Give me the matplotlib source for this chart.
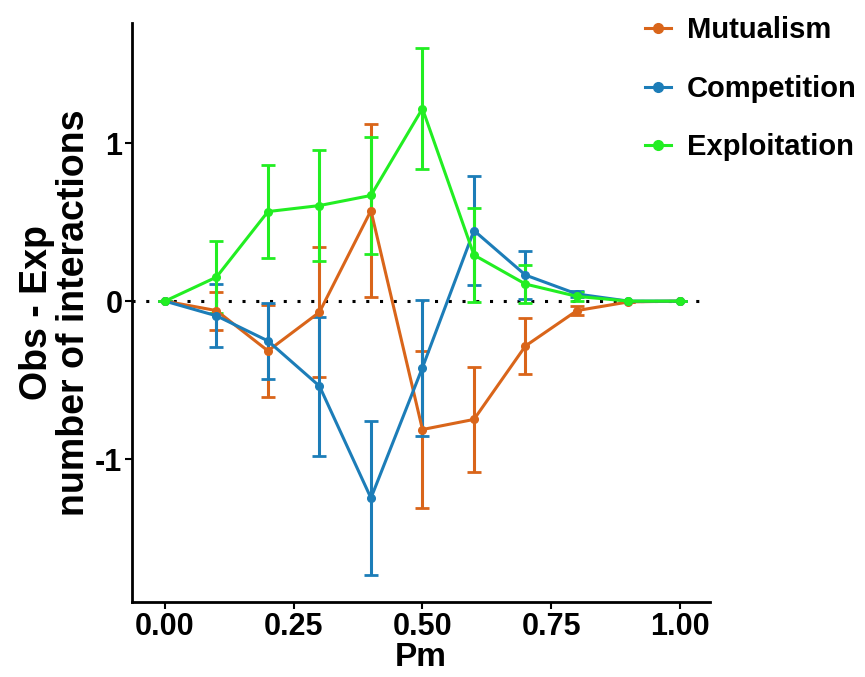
import matplotlib
matplotlib.use("Agg")
import matplotlib.pyplot as plt
from matplotlib.lines import Line2D

plt.rcParams['font.family'] = ['Liberation Sans', 'DejaVu Sans']
plt.rcParams['font.weight'] = 'bold'

pm = [0.0, 0.1, 0.2, 0.3, 0.4, 0.5, 0.6, 0.7, 0.8, 0.9, 1.0]
mutualism = [0.0, -0.06, -0.315, -0.07, 0.573, -0.813, -0.749, -0.284, -0.06, -0.005, 0.0]
mutualism_err = [0.0, 0.12, 0.29, 0.41, 0.55, 0.50, 0.33, 0.18, 0.03, 0.0, 0.0]
competition = [0.0, -0.093, -0.252, -0.538, -1.247, -0.421, 0.447, 0.165, 0.045, 0.0, 0.0]
competition_err = [0.0, 0.20, 0.24, 0.44, 0.49, 0.43, 0.345, 0.15, 0.02, 0.0, 0.0]
exploitation = [0.0, 0.152, 0.567, 0.605, 0.669, 1.219, 0.292, 0.108, 0.03, 0.0, 0.0]
exploitation_err = [0.0, 0.23, 0.295, 0.35, 0.37, 0.385, 0.30, 0.12, 0.03, 0.0, 0.0]

series = [
    ("Mutualism", mutualism, mutualism_err, "#D9651A"),
    ("Competition", competition, competition_err, "#1C7DB8"),
    ("Exploitation", exploitation, exploitation_err, "#22EE22"),
]

fig = plt.figure(figsize=(8.65, 6.77), dpi=100)
ax = fig.add_axes([0.1526, 0.1108, 0.668, 0.855])

ax.axhline(0, color="black", linestyle=(0, (1, 3.5)), linewidth=2.2, zorder=1)

handles = []
for name, vals, err, col in series:
    ax.errorbar(pm, vals, yerr=err, color=col, linewidth=2.2, elinewidth=2.2,
                capsize=5, capthick=2, marker='o', markersize=5.5, zorder=3)
    handles.append(Line2D([0], [0], color=col, linewidth=2.2, marker='o', markersize=7))

ax.set_xlim(-0.064, 1.058)
ax.set_ylim(-1.905, 1.76)
ax.set_xticks([0, 0.25, 0.5, 0.75, 1.0])
ax.set_xticklabels(["0.00", "0.25", "0.50", "0.75", "1.00"])
ax.set_yticks([-1, 0, 1])
ax.set_yticklabels(["-1", "0", "1"])
ax.tick_params(axis='both', labelsize=22, width=1.5, length=5, colors='black', pad=2)
for lab in ax.get_xticklabels() + ax.get_yticklabels():
    lab.set_fontweight('bold')
for s in ["top", "right"]:
    ax.spines[s].set_visible(False)
for s in ["left", "bottom"]:
    ax.spines[s].set_linewidth(2)

ax.set_xlabel("Pm", fontsize=24, fontweight='bold', labelpad=0)
ax.set_ylabel("Obs - Exp\nnumber of interactions", fontsize=27, fontweight='bold',
              linespacing=1.05, labelpad=2)

fig.legend(handles, [s[0] for s in series], loc='upper left',
           bbox_to_anchor=(0.715, 1.015), frameon=False,
           prop={'size': 21, 'weight': 'bold'}, handlelength=0.9,
           labelspacing=1.05, handletextpad=0.55)

fig.savefig("out.png", dpi=100)
